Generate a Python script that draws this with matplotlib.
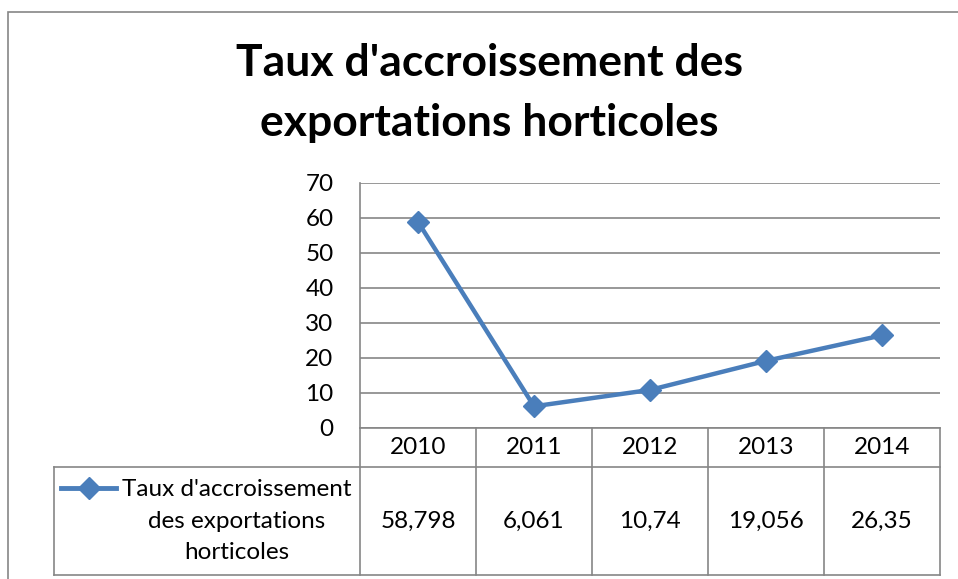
import numpy as np
import matplotlib.pyplot as plt
from matplotlib.lines import Line2D
from matplotlib.patches import Rectangle
from matplotlib.transforms import blended_transform_factory

annees = ['2010', '2011', '2012', '2013', '2014']
taux = [58.798, 6.061, 10.74, 19.056, 26.35]
taux_txt = ['58,798', '6,061', '10,74', '19,056', '26,35']
serie = "Taux d'accroissement\ndes exportations\nhorticoles"
titre = "Taux d'accroissement des\nexportations horticoles"

W, H = 958, 579
bleu = '#4A7EBB'
gris = '#868686'

plt.rcParams['font.family'] = ['Lato', 'DejaVu Sans']

fig = plt.figure(figsize=(W / 100, H / 100), dpi=100)


def fx(px):
    return px / W


def fy(py):
    return 1 - py / H


# cadre du graphique
fig.add_artist(Rectangle((fx(8), fy(600)), 1, fy(12) - fy(600), fill=False,
                         ec=gris, lw=1.2, transform=fig.transFigure))

fig.text(fx(489), fy(93), titre, ha='center', va='center', fontsize=32,
         fontweight='bold', linespacing=1.6)

ax = fig.add_axes([fx(360), fy(427.5), fx(940) - fx(360), fy(182.7) - fy(427.5)])
x = np.arange(len(annees))
ax.plot(x, taux, color=bleu, lw=3.2, marker='D', ms=11, clip_on=False, zorder=3)
ax.set_xlim(-0.5, len(annees) - 0.5)
ax.set_ylim(0, 70)
ax.set_yticks(range(0, 71, 10))
ax.set_xticks([])
ax.yaxis.grid(True, color=gris, lw=1.2)
ax.set_axisbelow(True)
ax.tick_params(axis='y', length=0, pad=19, labelsize=17.5)
for s in ['top', 'right']:
    ax.spines[s].set_visible(False)
for s in ['left', 'bottom']:
    ax.spines[s].set_color(gris)
    ax.spines[s].set_linewidth(1.2)

# tableau de données sous l'axe
tr = blended_transform_factory(ax.transData, fig.transFigure)
y_haut, y_mil, y_bas = fy(427.5), fy(467), fy(575)
for b in np.arange(-0.5, len(annees)):
    fig.add_artist(Line2D([b, b], [y_haut, y_bas], color=gris, lw=1.2, transform=tr))
x_gauche = fx(54)
x_droite = ax.get_position().x1
for yy in [y_mil, y_bas]:
    fig.add_artist(Line2D([x_gauche, x_droite], [yy, yy], color=gris, lw=1.2,
                          transform=fig.transFigure))
fig.add_artist(Line2D([x_gauche, x_gauche], [y_mil, y_bas], color=gris, lw=1.2,
                      transform=fig.transFigure))

for i, (a, v) in enumerate(zip(annees, taux_txt)):
    fig.text(i, fy(447), a, transform=tr, ha='center', va='center', fontsize=17.5)
    fig.text(i, fy(521), v, transform=tr, ha='center', va='center', fontsize=17.5)

# clé de légende
fig.add_artist(Line2D([fx(61), fx(88.5), fx(116)], [fy(488)] * 3, color=bleu, lw=3.5,
                      marker='D', ms=11, markevery=[1], transform=fig.transFigure))
fig.text(fx(237), fy(521), serie, ha='center', va='center', fontsize=17.5,
         multialignment='center', linespacing=1.6)

fig.savefig('out.png', dpi=100)
